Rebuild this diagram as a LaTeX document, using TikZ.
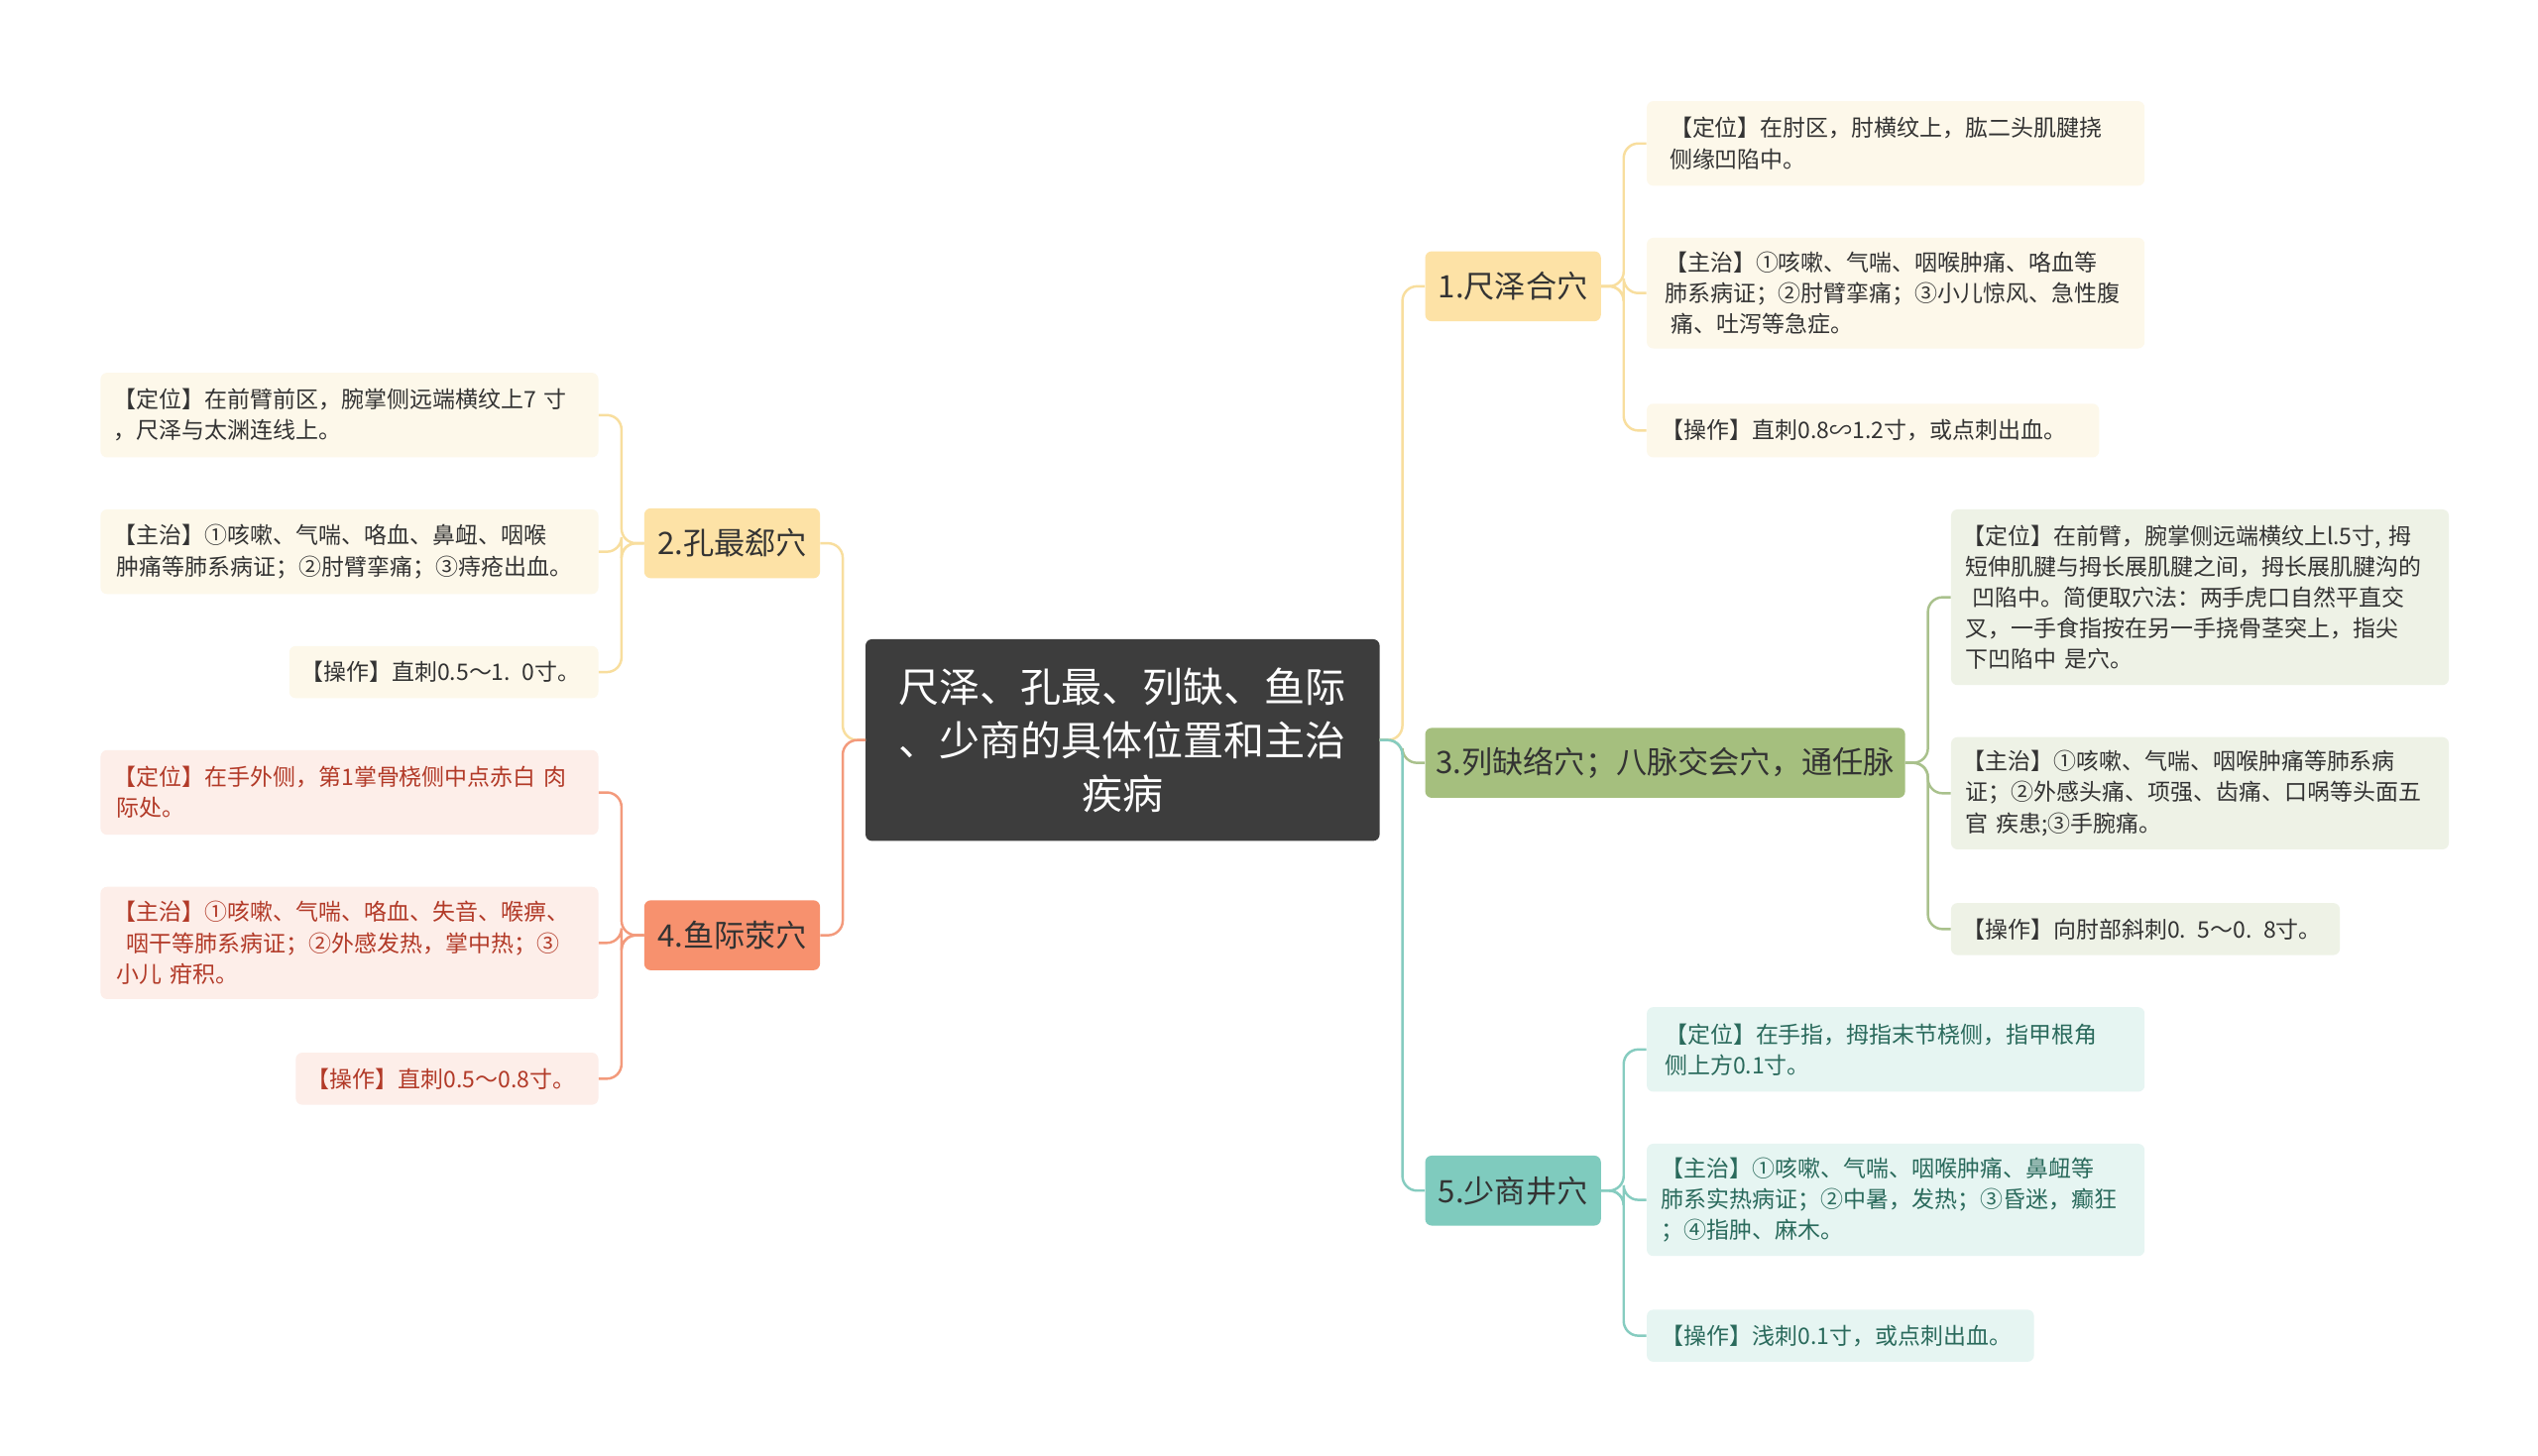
\documentclass[tikz,border=0pt]{standalone}
\usepackage{fontspec}
\setmainfont{Noto Sans CJK SC}
\begin{document}
\begin{tikzpicture}[x=1pt,y=-1pt,
 base/.style={rounded corners=4pt,inner sep=0pt,align=left},
 leaf/.style={base,font=\fontsize{14}{19}\selectfont,text=black!80},
 br/.style={base,align=center,font=\fontsize{19}{24}\selectfont,text=black!80,minimum height=43},
 lY/.style={leaf,fill=yLeaf},lG/.style={leaf,fill=gLeaf},lR/.style={leaf,fill=rLeaf,text=rText},lT/.style={leaf,fill=tLeaf,text=tText},
 cY/.style={draw=yLine,line width=1.5pt,rounded corners=9pt},
 cG/.style={draw=gLine,line width=1.5pt,rounded corners=9pt},
 cR/.style={draw=rLine,line width=1.5pt,rounded corners=9pt},
 cT/.style={draw=tLine,line width=1.5pt,rounded corners=9pt}]
\definecolor{yLeaf}{HTML}{FDF8EA}\definecolor{gLeaf}{HTML}{EEF2E6}\definecolor{rLeaf}{HTML}{FDEEE9}\definecolor{tLeaf}{HTML}{E6F5F2}
\definecolor{yBr}{HTML}{FDE2A6}\definecolor{gBr}{HTML}{A5BF7E}\definecolor{rBr}{HTML}{F7916E}\definecolor{tBr}{HTML}{7FCBBE}
\definecolor{yLine}{HTML}{F8DE9E}\definecolor{gLine}{HTML}{A9C18C}\definecolor{rLine}{HTML}{F39A7C}\definecolor{tLine}{HTML}{86CCC0}
\definecolor{rText}{HTML}{B23A28}\definecolor{tText}{HTML}{2A6A5C}
\useasboundingbox[fill=white] (0,0) rectangle (1560,895);
\node[base,fill=black!76,text=white,align=center,minimum width=316,minimum height=124,font=\fontsize{25}{33}\selectfont] (c) at (690,455) {尺泽、孔最、列缺、鱼际\\、少商的具体位置和主治\\疾病};
% branches
\node[br,fill=yBr,minimum width=108] (b1) at (930,176) {1.尺泽合穴};
\node[br,fill=yBr,minimum width=108] (b2) at (450,334) {2.孔最郄穴};
\node[br,fill=gBr,minimum width=295] (b3) at (1023.5,469) {3.列缺络穴；八脉交会穴，通任脉};
\node[br,fill=rBr,minimum width=108] (b4) at (450,575) {4.鱼际荥穴};
\node[br,fill=tBr,minimum width=108] (b5) at (930,732) {5.少商井穴};
% leaves branch 1
\node[lY,anchor=north west,minimum width=306,minimum height=52,text width=290] (a1) at (1012,62) {\hspace*{6pt}【定位】在肘区，肘横纹上，肱二头肌腱挠\\\hspace*{6pt}侧缘凹陷中。};
\node[lY,anchor=north west,minimum width=306,minimum height=68,text width=296] (a2) at (1012,146) {\hspace*{6pt}【主治】①咳嗽、气喘、咽喉肿痛、咯血等\\\hspace*{6pt}肺系病证；②肘臂挛痛；③小儿惊风、急性腹\\\hspace*{10pt}痛、吐泻等急症。};
\node[lY,anchor=north west,minimum width=278,minimum height=33,text width=272] (a3) at (1012,248) {\hspace*{6pt}【操作】直刺0.8∽1.2寸，或点刺出血。};
% branch 2
\node[lY,anchor=north east,minimum width=306,minimum height=52,text width=298] (k1) at (368,229) {\hspace*{4pt}【定位】在前臂前区，腕掌侧远端横纹上7 寸\\\hspace*{4pt}，尺泽与太渊连线上。};
\node[lY,anchor=north east,minimum width=306,minimum height=52,text width=298] (k2) at (368,313) {\hspace*{4pt}【主治】①咳嗽、气喘、咯血、鼻衄、咽喉\\\hspace*{6pt}肿痛等肺系病证；②肘臂挛痛；③痔疮出血。};
\node[lY,anchor=north east,minimum width=190,minimum height=32,text width=184] (k3) at (368,397) {\hspace*{4pt}【操作】直刺0.5～1. 0寸。};
% branch 3
\node[lG,anchor=north west,minimum width=306,minimum height=108,text width=300] (l1) at (1199,313) {\hspace*{4pt}【定位】在前臂，腕掌侧远端横纹上l.5寸, 拇\\\hspace*{6pt}短伸肌腱与拇长展肌腱之间，拇长展肌腱沟的\\\hspace*{10pt}凹陷中。简便取穴法：两手虎口自然平直交\\\hspace*{6pt}叉，一手食指按在另一手挠骨茎突上，指尖\\\hspace*{6pt}下凹陷中 是穴。};
\node[lG,anchor=north west,minimum width=306,minimum height=69,text width=300] (l2) at (1199,453) {\hspace*{4pt}【主治】①咳嗽、气喘、咽喉肿痛等肺系病\\\hspace*{6pt}证；②外感头痛、项强、齿痛、口㖞等头面五\\\hspace*{6pt}官 疾患;③手腕痛。};
\node[lG,anchor=north west,minimum width=239,minimum height=32,text width=233] (l3) at (1199,555) {\hspace*{4pt}【操作】向肘部斜刺0. 5～0. 8寸。};
% branch 4
\node[lR,anchor=north east,minimum width=306,minimum height=52,text width=298] (y1) at (368,461) {\hspace*{4pt}【定位】在手外侧，第1掌骨桡侧中点赤白 肉\\\hspace*{6pt}际处。};
\node[lR,anchor=north east,minimum width=306,minimum height=69,text width=298] (y2) at (368,545) {\hspace*{4pt}【主治】①咳嗽、气喘、咯血、失音、喉痹、\\\hspace*{12pt}咽干等肺系病证；②外感发热，掌中热；③\\\hspace*{6pt}小儿 疳积。};
\node[lR,anchor=north east,minimum width=186,minimum height=32,text width=180] (y3) at (368,647) {\hspace*{4pt}【操作】直刺0.5～0.8寸。};
% branch 5
\node[lT,anchor=north west,minimum width=306,minimum height=52,text width=296] (s1) at (1012,619) {\hspace*{6pt}【定位】在手指，拇指末节桡侧，指甲根角\\\hspace*{6pt}侧上方0.1寸。};
\node[lT,anchor=north west,minimum width=306,minimum height=69,text width=300] (s2) at (1012,703) {\hspace*{6pt}【主治】①咳嗽、气喘、咽喉肿痛、鼻衄等\\\hspace*{6pt}肺系实热病证；②中暑，发热；③昏迷，癫狂\\\hspace*{6pt}；④指肿、麻木。};
\node[lT,anchor=north west,minimum width=238,minimum height=32,text width=232] (s3) at (1012,805) {\hspace*{6pt}【操作】浅刺0.1寸，或点刺出血。};
% connectors center -> branches
\coordinate (cr) at (848,455); \coordinate (cl) at (532,455);
\draw[cY] (cr) -- (862,455) |- (b1.west);
\draw[cG] (cr) -- (862,455) |- (b3.west);
\draw[cT] (cr) -- (862,455) |- (b5.west);
\draw[cY] (cl) -- (518,455) |- (b2.east);
\draw[cR] (cl) -- (518,455) |- (b4.east);
% branch -> leaves
\foreach \l in {a1,a2,a3}{\draw[cY] (b1.east) -- (998,176) |- (\l.west);}
\foreach \l in {s1,s2,s3}{\draw[cT] (b5.east) -- (998,732) |- (\l.west);}
\foreach \l in {l1,l2,l3}{\draw[cG] (b3.east) -- (1185,469) |- (\l.west);}
\foreach \l in {k1,k2,k3}{\draw[cY] (b2.west) -- (382,334) |- (\l.east);}
\foreach \l in {y1,y2,y3}{\draw[cR] (b4.west) -- (382,575) |- (\l.east);}
\end{tikzpicture}
\end{document}
